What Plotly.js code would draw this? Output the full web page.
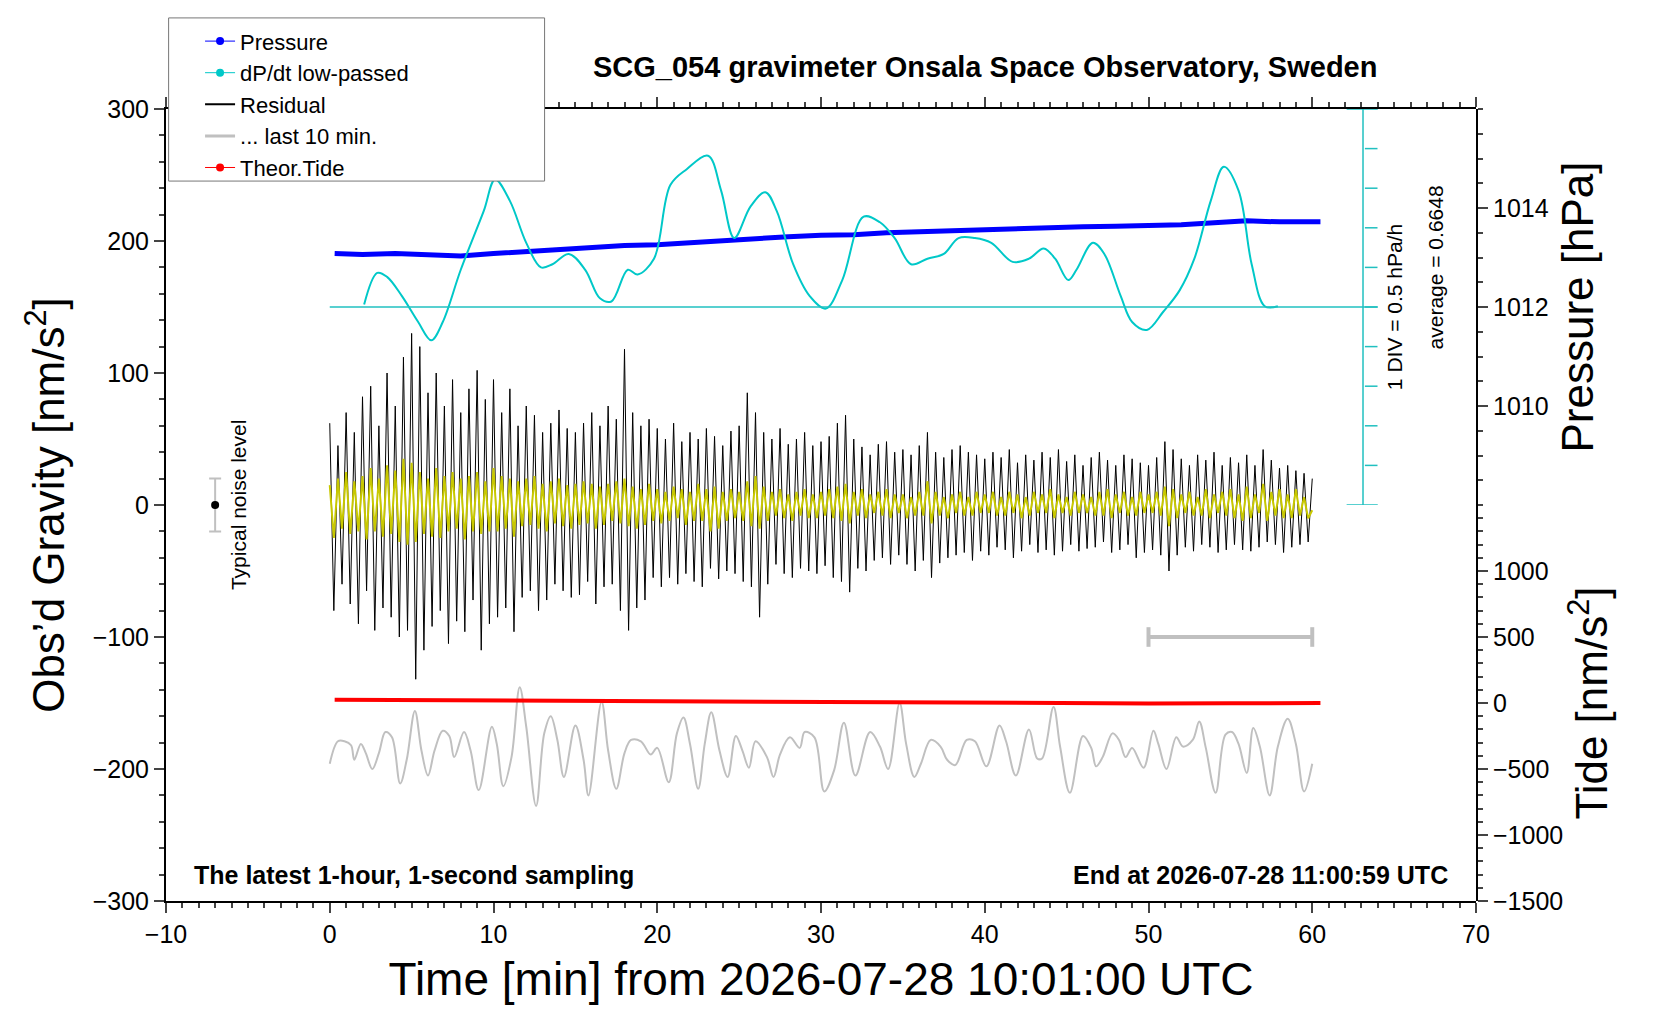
<!DOCTYPE html>
<html><head><meta charset="utf-8">
<script src="https://cdn.plot.ly/plotly-3.0.1.min.js"></script>
<style>body{margin:0;background:#fff}#c{width:1660px;height:1020px}</style>
</head><body><div id="c"></div>
<script>
// ---- data ----
const resStep = 0.25; // minutes between samples below
const residual = [
62,-80,45,-60,70,-75,55,-90,82,-65,90,-95,60,-78,100,-85,75,-100,112,-95,
130,-132,120,-110,85,-92,100,-80,75,-105,95,-88,70,-96,88,-72,102,-110,80,-90,
95,-85,70,-78,88,-96,60,-70,75,-65,68,-80,55,-72,62,-60,72,-65,58,-70,
55,-68,62,-58,70,-75,60,-62,75,-60,65,-80,118,-95,70,-78,60,-72,65,-55,
58,-62,50,-55,62,-60,48,-52,55,-58,50,-62,58,-48,52,-56,45,-50,56,-52,
60,-58,85,-62,70,-85,55,-60,50,-45,58,-52,46,-55,50,-48,55,-50,45,-52,
48,-46,52,-55,62,-58,68,-66,50,-48,44,-50,38,-42,46,-40,48,-45,40,-38,
42,-45,38,-50,45,-42,55,-55,40,-44,36,-40,42,-38,45,-36,40,-42,38,-35,
35,-38,40,-32,36,-34,42,-40,32,-35,38,-30,34,-36,40,-34,36,-38,42,-35,
33,-30,38,-35,30,-33,36,-32,40,-28,34,-36,30,-34,38,-30,35,-40,32,-36,
30,-34,36,-38,48,-50,42,-38,35,-32,30,-35,38,-30,34,-32,40,-36,30,-34,
36,-30,32,-34,38,-35,30,-32,42,-28,34,-30,28,-36,30,-32,26,-30,24,-28,
20];
const filtered = [
15,-25,20,-18,25,-22,18,-20,22,-26,28,-20,20,-24,30,-22,26,-28,35,-30,
32,-28,25,-22,20,-24,28,-25,22,-20,25,-18,20,-26,22,-20,25,-22,18,-20,
28,-20,22,-18,20,-24,18,-16,20,-15,22,-18,16,-20,18,-14,20,-16,15,-18,
16,-15,18,-14,16,-18,14,-15,16,-12,18,-14,20,-16,14,-18,12,-15,16,-12,
12,-14,10,-12,14,-10,12,-15,10,-12,16,-12,12,-20,14,-18,10,-12,12,-10,
10,-12,18,-16,22,-18,14,-12,10,-8,12,-10,8,-12,10,-8,12,-10,8,-10,
10,-8,12,-10,14,-12,16,-14,10,-8,12,-10,8,-6,10,-8,12,-10,8,-6,
8,-10,6,-8,10,-8,18,-14,10,-8,6,-10,8,-6,10,-8,6,-8,10,-6,
8,-6,10,-8,6,-8,10,-6,8,-10,6,-8,10,-6,8,-6,12,-10,8,-6,
6,-8,10,-6,8,-6,6,-8,10,-8,12,-10,8,-6,10,-8,6,-8,10,-6,
8,-6,10,-8,14,-16,12,-10,8,-6,10,-8,6,-8,12,-10,8,-6,10,-8,
12,-10,8,-12,14,-10,8,-6,16,-12,10,-8,12,-10,8,-10,12,-8,6,-10,
-4];
const lastT = [0.0,0.5,0.9,1.3,1.5,1.9,2.2,2.6,3.0,3.4,3.8,4.3,4.7,5.2,5.6,6.0,6.4,6.9,7.3,7.6,8.2,8.6,9.1,9.9,10.2,10.6,11.1,11.6,12.0,12.6,13.1,13.5,13.9,14.3,15.0,15.5,15.8,16.6,17.0,17.5,18.0,18.4,19.0,19.6,20.0,20.7,21.2,21.6,22.0,22.5,22.9,23.3,23.8,24.3,24.8,25.2,25.6,26.0,26.7,27.1,27.5,28.1,28.7,29.0,29.6,30.2,30.8,31.4,32.1,33.0,33.6,34.1,34.8,35.2,35.7,36.1,36.7,37.3,37.7,38.2,38.9,39.4,40.1,40.9,41.3,41.9,42.7,43.2,43.5,44.2,44.6,45.2,46.0,46.5,46.8,47.2,47.8,48.2,48.6,49.0,49.7,50.3,50.6,51.1,51.7,52.1,52.7,53.1,53.5,54.1,54.7,55.1,55.5,56.0,56.4,56.8,57.4,57.9,58.5,59.0,59.5,60.0];
const lastV = [-196,-179,-179,-182,-193,-181,-188,-200,-188,-172,-176,-211,-193,-156,-186,-205,-186,-171,-175,-191,-172,-186,-216,-168,-181,-213,-191,-138,-168,-228,-173,-160,-178,-206,-167,-193,-220,-149,-186,-215,-188,-178,-179,-189,-184,-210,-173,-161,-181,-215,-181,-157,-186,-206,-175,-186,-199,-179,-191,-206,-189,-176,-184,-172,-176,-217,-201,-165,-205,-172,-183,-200,-150,-181,-206,-196,-178,-183,-193,-197,-178,-179,-198,-167,-179,-205,-170,-192,-192,-153,-183,-218,-175,-184,-198,-191,-173,-178,-191,-184,-199,-171,-181,-200,-176,-183,-178,-164,-184,-218,-174,-172,-181,-203,-169,-183,-220,-183,-162,-181,-217,-196];
const presT = [0.3,2,4,6,8,10,12,14,16,18,20,22,24,26,28,30,32,34,36,38,40,42,44,46,48,50,52,54,56,58,60.5];
const presV = [1013.08,1013.06,1013.08,1013.05,1013.03,1013.08,1013.12,1013.18,1013.20,1013.24,1013.26,1013.30,1013.36,1013.40,1013.42,1013.45,1013.46,1013.50,1013.52,1013.55,1013.57,1013.60,1013.61,1013.62,1013.63,1013.64,1013.66,1013.70,1013.74,1013.72,1013.72];
const dpdtT = [2.1,2.9,3.5,4.4,5.4,6.2,6.9,8.0,9.4,10.1,11.0,12.0,12.9,13.6,14.6,15.6,16.5,17.2,18.2,18.8,19.8,20.8,21.8,23.1,23.9,24.7,25.7,26.6,27.3,28.3,29.3,30.3,31.3,32.6,33.6,34.5,35.5,36.5,37.5,38.4,39.4,40.4,41.7,42.7,43.6,44.3,45.1,45.6,46.6,47.3,48.3,49.0,49.9,50.9,51.9,52.8,53.8,54.6,55.5,56.3,57.1,57.9];
const dpdtV = [0.03,0.43,0.38,0.14,-0.19,-0.42,-0.19,0.47,1.21,1.61,1.34,0.81,0.50,0.54,0.67,0.47,0.11,0.07,0.47,0.41,0.61,1.54,1.74,1.91,1.47,0.87,1.27,1.45,1.21,0.54,0.14,-0.02,0.34,1.14,1.07,0.87,0.54,0.61,0.67,0.87,0.87,0.81,0.57,0.61,0.74,0.61,0.34,0.47,0.81,0.67,0.14,-0.19,-0.29,-0.06,0.21,0.61,1.34,1.77,1.47,0.54,0.01,0.01];
const tideT = [0.3,10,20,30,40,45,50,55,60.5];
const tideV = [24,18,12,6,-2,-6,-3,-2,0];
const noiseX = [-7], noiseY = [0], noiseErr = [20];
const scaleX = [50,60], scaleY = [-100,-100];

const resT = residual.map((_, i) => i * resStep);
const cy = '#00c8c8';

const traces = [
 // legend entries
 {x:[null], y:[null], mode:'lines+markers', name:'Pressure', line:{color:'#0000ff', width:1}, marker:{size:8, color:'#0000ff'}},
 {x:[null], y:[null], mode:'lines+markers', name:'dP/dt low-passed', line:{color:cy, width:1}, marker:{size:8, color:cy}},
 {x:[null], y:[null], mode:'lines', name:'Residual', line:{color:'#000', width:2}},
 {x:[null], y:[null], mode:'lines', name:'... last 10 min.', line:{color:'#c0c0c0', width:3}},
 {x:[null], y:[null], mode:'lines+markers', name:'Theor.Tide', line:{color:'#ff0000', width:1}, marker:{size:8, color:'#ff0000'}},
 // data
 {x: dpdtT, y: dpdtV, yaxis:'y4', mode:'lines', showlegend:false, line:{color:cy, width:2, shape:'spline'}},
 {x: presT, y: presV, yaxis:'y2', mode:'lines', showlegend:false, line:{color:'#0000ff', width:5}},
 {x: resT, y: residual, mode:'lines', showlegend:false, line:{color:'#000000', width:1}},
 {x: resT, y: filtered, mode:'lines', showlegend:false, line:{color:'#c8c800', width:2}},
 {x: lastT, y: lastV, mode:'lines', showlegend:false, line:{color:'#c0c0c0', width:2, shape:'spline'}},
 {x: tideT, y: tideV, yaxis:'y3', mode:'lines', showlegend:false, line:{color:'#ff0000', width:4}},
 {x: noiseX, y: noiseY, mode:'markers', showlegend:false, marker:{color:'#000', size:8},
  error_y:{type:'data', array: noiseErr, color:'#c0c0c0', thickness:2, width:6}},
 {x: scaleX, y: scaleY, mode:'lines+markers', showlegend:false, line:{color:'#c0c0c0', width:4},
  marker:{symbol:'line-ns', size:14, line:{width:4, color:'#c0c0c0'}}},
 {x:[0,64], y:[0,0], yaxis:'y4', mode:'lines', showlegend:false, line:{color:'#20c0c0', width:1.5}},
 {x:[63.1,63.1], y:[-2.5,2.5], yaxis:'y4', mode:'lines', showlegend:false, line:{color:'#20c0c0', width:1.5}},
 {x:[62.1,64.0], y:[-2.5,-2.5], yaxis:'y4', mode:'lines', showlegend:false, line:{color:'#20c0c0', width:1.5}},
 {x:[62.1,64.0], y:[2.5,2.5], yaxis:'y4', mode:'lines', showlegend:false, line:{color:'#20c0c0', width:1.5}},
 {x:[0,0,0,0,0,0,0,0,0].map(()=>63.6), y:[-2,-1.5,-1,-0.5,0,0.5,1,1.5,2], yaxis:'y4', mode:'markers', showlegend:false,
  marker:{symbol:'line-ew', size:9, line:{width:1.5, color:'#20c0c0'}}}
];

const font = 'Liberation Sans, Arial, sans-serif';
const ax = {ticks:'outside', ticklen:10, tickwidth:2, showline:true, linewidth:2, linecolor:'#000', showgrid:false, zeroline:false, tickfont:{size:25}};
const layout = {
 width:1660, height:1020,
 margin:{l:166, r:184, t:109, b:119},
 paper_bgcolor:'#fff', plot_bgcolor:'rgba(0,0,0,0)',
 font:{family:font, color:'#000', size:24},
 showlegend:true,
 legend:{x:0.026, y:1.112, xanchor:'left', yanchor:'top', bgcolor:'rgba(0,0,0,0)', borderwidth:0,
   font:{size:22}, tracegroupgap:0},
 shapes:[{type:'rect', xref:'paper', yref:'paper', x0:0.002, x1:0.289, y0:0.909, y1:1.115,
   fillcolor:'#fff', line:{color:'#777', width:1}, layer:'above'}],
 xaxis:Object.assign({}, ax, {range:[-10,70], tickvals:[-10,0,10,20,30,40,50,60,70],
   minor:{dtick:1, ticks:'outside', ticklen:5}, mirror:'ticks',
   title:{text:'Time [min] from 2026-07-28 10:01:00 UTC', font:{size:46}, standoff:16}}),
 yaxis:Object.assign({}, ax, {range:[-300,300], tickvals:[-300,-200,-100,0,100,200,300],
   minor:{dtick:20, ticks:'outside', ticklen:5},
   title:{text:'Obs\u2019d Gravity [nm/s<sup>2</sup>]', font:{size:44}, standoff:14}}),
 yaxis2:Object.assign({}, ax, {domain:[0.5,1], anchor:'x', side:'right', range:[1008,1016], tickvals:[1010,1012,1014],
   minor:{dtick:0.5, ticks:'outside', ticklen:5},
   title:{text:'Pressure [hPa]', font:{size:44}, standoff:14}}),
 yaxis3:Object.assign({}, ax, {domain:[0,0.5], anchor:'x', side:'right', range:[-1500,1500], tickvals:[-1500,-1000,-500,0,500,1000],
   minor:{dtick:100, ticks:'outside', ticklen:5},
   title:{text:'Tide [nm/s<sup>2</sup>]', font:{size:44}, standoff:14}}),
 yaxis4:{overlaying:'y2', range:[-2.5,2.5], visible:false},
 annotations:[
  {text:'<b>SCG_054 gravimeter Onsala Space Observatory, Sweden</b>', xref:'paper', yref:'paper', x:0.625, y:1.03,
   xanchor:'center', yanchor:'bottom', showarrow:false, font:{size:29}},
  {text:'<b>The latest 1-hour, 1-second sampling</b>', xref:'paper', yref:'paper', x:0.02, y:0.012,
   xanchor:'left', yanchor:'bottom', showarrow:false, font:{size:25}},
  {text:'<b>End at 2026-07-28 11:00:59 UTC</b>', xref:'paper', yref:'paper', x:0.98, y:0.012,
   xanchor:'right', yanchor:'bottom', showarrow:false, font:{size:25}},
  {text:'Typical noise level', x:-5.6, y:0, xref:'x', yref:'y', textangle:-90, showarrow:false, font:{size:21}},
  {text:'1 DIV = 0.5 hPa/h', x:65.0, y:0, xref:'x', yref:'y4', textangle:-90, showarrow:false, font:{size:21}},
  {text:'average = 0.6648', x:67.5, y:0.5, xref:'x', yref:'y4', textangle:-90, showarrow:false, font:{size:21}}
 ]
};
Plotly.newPlot('c', traces, layout, {displayModeBar:false, staticPlot:true});
</script></body></html>
